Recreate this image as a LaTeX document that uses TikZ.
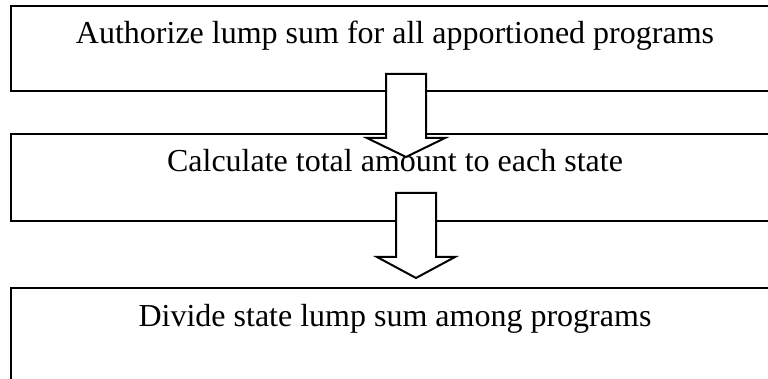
\documentclass[tikz,border=0pt]{standalone}
\usepackage{fontspec}
\setmainfont{Liberation Serif}
\usetikzlibrary{positioning}

\tikzset{
  stagebox/.style={draw, line width=1pt, anchor=north west, minimum width=384pt, inner sep=0pt},
  stagetext/.style={anchor=base, inner sep=0pt, font=\fontsize{16}{19}\selectfont},
  blockarrow/.style={draw, line width=1pt, fill=white, line join=miter},
}

\begin{document}
\begin{tikzpicture}[x=0.5pt, y=-0.5pt]
  \useasboundingbox (0, 0) rectangle (768, 379);
  \clip (0, 0) rectangle (768, 379);

  \node[stagebox, minimum height=42.5pt] (authorize) at (10, 5) {};
  \node[stagebox, minimum height=43.5pt] (calculate) at (10, 133) {};
  \node[stagebox, minimum height=60pt] (divide) at (10, 287) {};

  \foreach \cx/\top/\wing/\tip in {406/74/138/157, 416/193/257/278} {
    \draw[blockarrow] (\cx - 20, \top) -- (\cx + 20, \top) -- (\cx + 20, \wing)
      -- (\cx + 39, \wing) -- (\cx, \tip) -- (\cx - 39, \wing)
      -- (\cx - 20, \wing) -- cycle;
  }

  \node[stagetext] (authorizetext) at ([yshift=-19.5pt]authorize.north) {Authorize lump sum for all apportioned programs};
  \node[stagetext] (calculatetext) at ([yshift=-19.5pt]calculate.north) {Calculate total amount to each state};
  \node[stagetext] (dividetext) at ([yshift=-20pt]divide.north) {Divide state lump sum among programs};
\end{tikzpicture}
\end{document}
